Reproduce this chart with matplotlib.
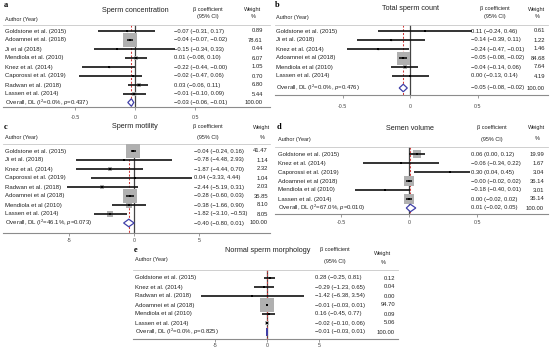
import matplotlib
matplotlib.use("Agg")
import matplotlib.pyplot as plt
import numpy as np
from matplotlib.transforms import blended_transform_factory
from matplotlib.patches import Polygon

plt.rcParams['font.family'] = ['Liberation Sans', 'DejaVu Sans']
plt.rcParams['mathtext.fontset'] = 'custom'
plt.rcParams['mathtext.rm'] = 'Liberation Sans'
plt.rcParams['mathtext.it'] = 'Liberation Sans:italic'
plt.rcParams['axes.unicode_minus'] = False

# ---------------- data ----------------
conc_studies = ["Goldstone et al. (2015)", "Adoamnei et al. (2018)", "Ji et al (2018)",
                "Mendiola et al. (2010)", "Knez et al. (2014)", "Caporossi et al. (2019)",
                "Radwan et al. (2018)", "Lassen et al. (2014)"]
conc_beta = [-0.07, -0.04, -0.15, 0.01, -0.22, -0.02, 0.03, -0.01]
conc_lo = [-0.31, -0.07, -0.34, -0.08, -0.44, -0.47, -0.06, -0.10]
conc_hi = [0.17, -0.02, 0.33, 0.10, -0.0, 0.06, 0.11, 0.09]
conc_w = [0.89, 78.61, 0.44, 6.07, 1.05, 0.70, 6.80, 5.44]
conc_overall = [-0.03, -0.06, -0.01]
conc_i2, conc_p = "0.0", "0.437"

count_studies = ["Goldstone et al. (2015)", "Ji et al. (2018)", "Knez et al. (2014)",
                 "Adoamnei et al (2018)", "Mendiola et al (2010)", "Lassen et al. (2014)"]
count_beta = [0.11, -0.14, -0.24, -0.05, -0.04, 0.00]
count_lo = [-0.24, -0.39, -0.47, -0.08, -0.14, -0.13]
count_hi = [0.46, 0.11, -0.01, -0.02, 0.06, 0.14]
count_w = [0.61, 1.22, 1.46, 84.68, 7.64, 4.19]
count_overall = [-0.05, -0.08, -0.02]
count_i2, count_p = "0.0", "0.476"

mot_studies = ["Goldstone et al. (2015)", "Ji et al. (2018)", "Knez et al. (2014)",
               "Caporossi et al. (2019)", "Radwan et al. (2018)", "Adoamnei et al (2018)",
               "Mendiola et al (2010)", "Lassen et al. (2014)"]
mot_beta = [-0.04, -0.78, -1.87, 0.04, -2.44, -0.28, -0.38, -1.82]
mot_lo = [-0.24, -4.48, -4.44, -3.33, -5.19, -0.60, -1.66, -3.10]
mot_hi = [0.16, 2.93, 0.70, 4.44, 0.31, 0.03, 0.90, -0.53]
mot_w = [41.47, 1.14, 2.32, 1.04, 2.03, 35.85, 8.10, 8.05]
mot_overall = [-0.40, -0.80, 0.01]
mot_i2, mot_p = "46.1", "0.073"

vol_studies = ["Goldstone et al. (2015)", "Knez et al. (2014)", "Caporossi et al. (2019)",
               "Adoamnei et al (2018)", "Mendiola et al (2010)", "Lassen et al. (2014)"]
vol_beta = [0.06, -0.06, 0.30, -0.0, -0.18, 0.00]
vol_lo = [0.00, -0.34, 0.04, -0.02, -0.40, -0.02]
vol_hi = [0.12, 0.22, 0.45, 0.02, 0.01, 0.02]
vol_w = [19.99, 1.67, 3.04, 36.14, 3.01, 36.14]
vol_overall = [0.01, -0.02, 0.05]
vol_i2, vol_p = "67.0", "0.010"

morph_studies = ["Goldstone et al. (2015)", "Knez et al. (2014)", "Radwan et al. (2018)",
                 "Adoamnei et al (2018)", "Mendiola et al (2010)", "Lassen et al. (2014)"]
morph_beta = [0.28, -0.29, -1.42, -0.01, 0.16, -0.02]
morph_lo = [-0.25, -1.23, -6.38, -0.03, -0.45, -0.10]
morph_hi = [0.81, 0.65, 3.54, 0.01, 0.77, 0.06]
morph_w = [0.12, 0.04, 0.00, 94.70, 0.09, 5.06]
morph_overall = [-0.01, -0.03, 0.01]
morph_i2, morph_p = "0.0", "0.825"

small_ticks = [-0.5, 0, 0.5]
small_ticklabels = ["-0.5", "0", "0.5"]
big_ticks = [-5, 0, 5]
big_ticklabels = ["-5", "0", "5"]

# ---------------- layout ----------------
W, H = 550, 351
fig = plt.figure(figsize=(W / 100, H / 100), dpi=100)

def fx(px):
    return px / W

def fy(py):
    return 1 - py / H

TXT = "#222222"
FS = 4.3
FSN = 4.2

panels = [
    dict(label="a", title="Sperm concentration", studies=conc_studies, beta=conc_beta,
         lo=conc_lo, hi=conc_hi, w=conc_w, ov=conc_overall, i2=conc_i2, p=conc_p,
         ticks=small_ticks, tl=small_ticklabels, pad=3.5,
         L=3, R=270, Z=135, S=120, T=25, y0=31, dy=9.0, yo=102.5, B=107,
         xlab=5, xci=174, xw=263, ylab=5, ytitle=10, xtitle=135, xb=208, yb1=9, yb2=16.5,
         xwh=253, yw1=10, yw2=17, yauth=20, maxsq=14),
    dict(label="b", title="Total sperm count", studies=count_studies, beta=count_beta,
         lo=count_lo, hi=count_hi, w=count_w, ov=count_overall, i2=count_i2, p=count_p,
         ticks=small_ticks, tl=small_ticklabels, pad=4.5,
         L=275, R=548, Z=410, S=135, T=25, y0=31, dy=9.0, yo=88, B=95,
         xlab=276, xci=471, xw=545, ylab=5, ytitle=8.5, xtitle=410, xb=495, yb1=8.5, yb2=16.5,
         xwh=537, yw1=9, yw2=17, yauth=17.5, maxsq=13),
    dict(label="c", title="Sperm motility", studies=mot_studies, beta=mot_beta,
         lo=mot_lo, hi=mot_hi, w=mot_w, ov=mot_overall, i2=mot_i2, p=mot_p,
         ticks=big_ticks, tl=big_ticklabels, pad=1.5,
         L=3, R=270, Z=134, S=13, T=144, y0=151, dy=9.0, yo=223, B=233,
         xlab=5, xci=194, xw=268, ylab=127, ytitle=127, xtitle=135, xb=208, yb1=126.5, yb2=138,
         xwh=262, yw1=127, yw2=138, yauth=138, maxsq=14),
    dict(label="d", title="Semen volume", studies=vol_studies, beta=vol_beta,
         lo=vol_lo, hi=vol_hi, w=vol_w, ov=vol_overall, i2=vol_i2, p=vol_p,
         ticks=small_ticks, tl=small_ticklabels, pad=2,
         L=275, R=548, Z=409, S=136, T=147, y0=154, dy=9.0, yo=208, B=214,
         xlab=278, xci=471, xw=544, ylab=127, ytitle=129, xtitle=410, xb=492, yb1=128, yb2=139,
         xwh=537, yw1=128, yw2=139, yauth=139, maxsq=10),
    dict(label="e", title="Normal sperm morphology", studies=morph_studies, beta=morph_beta,
         lo=morph_lo, hi=morph_hi, w=morph_w, ov=morph_overall, i2=morph_i2, p=morph_p,
         ticks=big_ticks, tl=big_ticklabels, pad=0.8,
         L=133, R=398, Z=267, S=10.4, T=270, y0=278, dy=9.0, yo=332, B=339,
         xlab=135, xci=315, xw=395, ylab=250, ytitle=250, xtitle=268, xb=335, yb1=250, yb2=262,
         xwh=383, yw1=253, yw2=262, yauth=260, maxsq=14),
]

def fmt(v):
    return f"{v:.2f}".replace("-", "\u2212")

for P in panels:
    ax = fig.add_axes([fx(P["L"]), fy(P["B"]), fx(P["R"] - P["L"]), (P["B"] - P["T"]) / H])
    ax.set_xlim((P["L"] - P["Z"]) / P["S"], (P["R"] - P["Z"]) / P["S"])
    ybot = (P["B"] - P["y0"]) / P["dy"]
    ytop = (P["T"] - P["y0"]) / P["dy"]
    ax.set_ylim(ybot, ytop)
    for s in ["top", "left", "right"]:
        ax.spines[s].set_visible(False)
    ax.spines["bottom"].set_color("#8c8c8c")
    ax.spines["bottom"].set_linewidth(0.8)
    ax.set_yticks([])
    ax.set_xticks(P["ticks"])
    ax.set_xticklabels(P["tl"])
    ax.tick_params(axis="x", length=2.0, width=0.6, color="#8c8c8c", labelsize=3.8,
                   labelcolor="#444444", pad=P["pad"])
    ax.patch.set_alpha(0)

    # top rule
    ax.axhline(ytop, color="#c8c8c8", lw=0.6, clip_on=False)
    # reference lines
    ax.plot([0, 0], [ytop, ybot], color="#444444", lw=0.9, zorder=1)
    ax.plot([P["ov"][0]] * 2, [ytop, ybot], color="#d03a3a", lw=0.75, ls=(0, (2, 1.6)), zorder=1)

    n = len(P["studies"])
    rows = np.arange(n)
    wmax = max(P["w"])
    # squares
    for k in range(n):
        if P["w"][k] > 0:
            side_pt = P["maxsq"] * np.sqrt(P["w"][k] / wmax) * 72 / 100
            ax.plot([P["beta"][k]], [rows[k]], marker="s", markersize=side_pt,
                    color="#b0b0b0", markeredgewidth=0, zorder=2)
    for k in range(n):
        ax.plot([P["lo"][k], P["hi"][k]], [rows[k], rows[k]], color="#111111",
                lw=1.2, solid_capstyle="butt", zorder=3)
    ax.plot(P["beta"], rows, ls="none", marker="s", markersize=2.0, color="black",
            markeredgewidth=0, zorder=4)

    # diamond
    yo = (P["yo"] - P["y0"]) / P["dy"]
    h = 0.42
    b, l, u = P["ov"]
    dia = Polygon([[l, yo], [b, yo - h], [u, yo], [b, yo + h]], closed=True,
                  facecolor="white", edgecolor="#4040a8", lw=0.9, zorder=5)
    ax.add_patch(dia)

    tr = blended_transform_factory(fig.transFigure, ax.transData)
    for k in range(n):
        ax.text(fx(P["xlab"]), rows[k], P["studies"][k], transform=tr, fontsize=FS,
                color=TXT, va="center", ha="left")
        ax.text(fx(P["xci"]), rows[k], f"{fmt(P['beta'][k])} ({fmt(P['lo'][k])}, {fmt(P['hi'][k])})",
                transform=tr, fontsize=FSN, color=TXT, va="center", ha="left")
        ax.text(fx(P["xw"]), rows[k], f"{P['w'][k]:.2f}", transform=tr, fontsize=FSN,
                color=TXT, va="center", ha="right")
    ax.text(fx(P["xlab"]), yo, f"Overall, DL (I$^2$={P['i2']}%, $p$={P['p']})", transform=tr,
            fontsize=FS, color=TXT, va="center", ha="left")
    ax.text(fx(P["xci"]), yo, f"{fmt(b)} ({fmt(l)}, {fmt(u)})", transform=tr, fontsize=FSN,
            color=TXT, va="center", ha="left")
    ax.text(fx(P["xw"]), yo, "100.00", transform=tr, fontsize=FSN, color=TXT,
            va="center", ha="right")

    # headers
    fig.text(fx(P["xlab"] - 1), fy(P["ylab"]), P["label"], fontsize=6, fontweight="bold",
             family="Liberation Serif", va="center", ha="left")
    fig.text(fx(P["xtitle"]), fy(P["ytitle"]), P["title"], fontsize=5.2, color=TXT,
             va="center", ha="center")
    fig.text(fx(P["xlab"]), fy(P["yauth"]), "Author (Year)", fontsize=FS - 0.3, color=TXT,
             va="center", ha="left")
    fig.text(fx(P["xb"]), fy(P["yb1"]), "\u03b2 coefficient", fontsize=FS - 0.3, color=TXT,
             va="center", ha="center")
    fig.text(fx(P["xb"]), fy(P["yb2"]), "(95% CI)", fontsize=FS - 0.3, color=TXT,
             va="center", ha="center")
    fig.text(fx(P["xwh"]), fy(P["yw1"]), "Weight", fontsize=FS - 0.3, color=TXT,
             va="center", ha="center")
    fig.text(fx(P["xwh"]), fy(P["yw2"]), "%", fontsize=FS - 0.3, color=TXT,
             va="center", ha="center")

fig.savefig("out.png", dpi=100)
